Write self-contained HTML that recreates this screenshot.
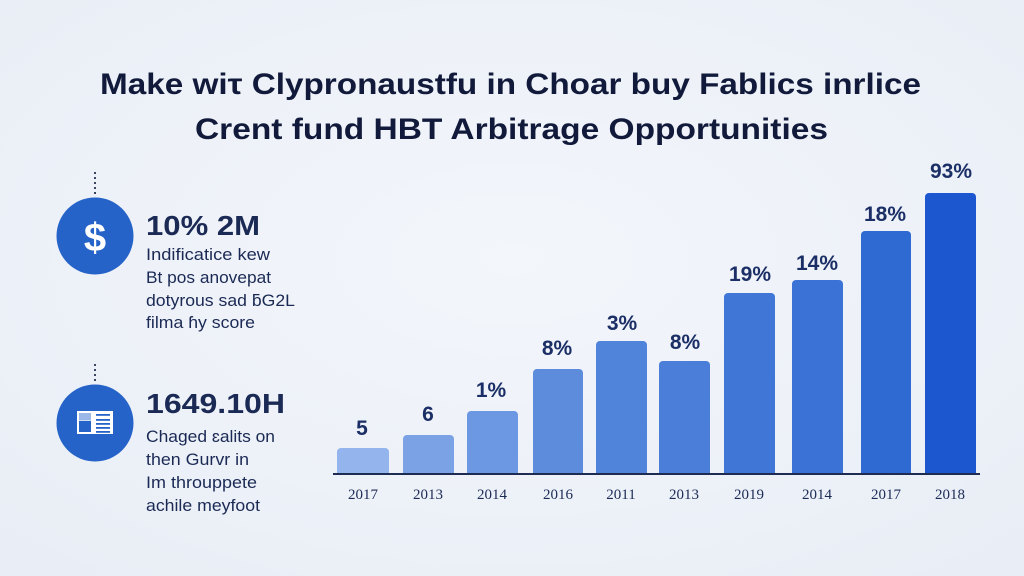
<!DOCTYPE html>
<html>
<head>
<meta charset="utf-8">
<style>
  html,body{margin:0;padding:0;}
  body{width:1024px;height:576px;overflow:hidden;background:#eef2f8;}
  svg{display:block;}
</style>
</head>
<body>
<svg width="1024" height="576" viewBox="0 0 1024 576" xmlns="http://www.w3.org/2000/svg">
  <defs>
    <radialGradient id="bg" cx="50%" cy="45%" r="70%">
      <stop offset="0%" stop-color="#f3f6fb"/>
      <stop offset="100%" stop-color="#e9eef6"/>
    </radialGradient>
  </defs>
  <rect x="0" y="0" width="1024" height="576" fill="url(#bg)"/>

  <!-- Title -->
  <g font-family="Liberation Sans, sans-serif" font-weight="bold" font-size="30" fill="#111a3a">
    <text x="100" y="94" textLength="821" lengthAdjust="spacingAndGlyphs">Make wiτ Clypronaustfu in Choar buy Fablics inrlice</text>
    <text x="195" y="139" textLength="633" lengthAdjust="spacingAndGlyphs">Crent fund HBT Arbitrage Opportunities</text>
  </g>

  <!-- Left panel item 1 -->
  <line x1="95" y1="172" x2="95" y2="195" stroke="#3a4560" stroke-width="2" stroke-dasharray="2,3"/>
  <circle cx="95" cy="236" r="38.5" fill="#2563c9"/>
  <text x="95" y="251" text-anchor="middle" font-family="Liberation Sans, sans-serif" font-weight="bold" font-size="40" fill="#ffffff">$</text>

  <g font-family="Liberation Sans, sans-serif" fill="#1b2a55">
    <text x="146" y="235" font-weight="bold" font-size="28" textLength="114" lengthAdjust="spacingAndGlyphs">10% 2M</text>
    <text x="146" y="260" font-size="17" textLength="124" lengthAdjust="spacingAndGlyphs">Indificatice kew</text>
    <text x="146" y="283" font-size="17" textLength="125" lengthAdjust="spacingAndGlyphs">Bt pos anovepat</text>
    <text x="146" y="306" font-size="17" textLength="149" lengthAdjust="spacingAndGlyphs">dotyrous sad ƃG2L</text>
    <text x="146" y="328" font-size="17" textLength="109" lengthAdjust="spacingAndGlyphs">filma ɦy score</text>
  </g>

  <!-- Left panel item 2 -->
  <line x1="95" y1="364" x2="95" y2="382" stroke="#3a4560" stroke-width="2" stroke-dasharray="2,3"/>
  <circle cx="95" cy="423" r="38.5" fill="#2563c9"/>
  <rect x="77" y="411" width="36" height="23" fill="#ffffff"/>
  <rect x="79" y="413" width="12" height="7.5" fill="#9cb8e8"/>
  <rect x="79" y="421" width="12" height="11" fill="#2563c9"/>
  <rect x="96" y="414" width="14" height="1.8" fill="#2563c9"/>
  <rect x="96" y="419" width="14" height="1.8" fill="#2563c9"/>
  <rect x="96" y="423" width="14" height="1.8" fill="#2563c9"/>
  <rect x="96" y="427" width="14" height="1.8" fill="#2563c9"/>
  <rect x="96" y="431" width="14" height="1.8" fill="#2563c9"/>

  <g font-family="Liberation Sans, sans-serif" fill="#1b2a55">
    <text x="146" y="413" font-weight="bold" font-size="28" textLength="139" lengthAdjust="spacingAndGlyphs">1649.10H</text>
    <text x="146" y="442" font-size="17" textLength="129" lengthAdjust="spacingAndGlyphs">Chaged ɛalits on</text>
    <text x="146" y="465" font-size="17" textLength="103" lengthAdjust="spacingAndGlyphs">then Gurvr in</text>
    <text x="146" y="488" font-size="17" textLength="111" lengthAdjust="spacingAndGlyphs">Im throuppete</text>
    <text x="146" y="511" font-size="17" textLength="114" lengthAdjust="spacingAndGlyphs">achile meyfoot</text>
  </g>

  <!-- Bars -->
  <g>
    <path d="M337,474 V452 a4,4 0 0 1 4,-4 H385 a4,4 0 0 1 4,4 V474 Z" fill="#93b4ec"/>
    <path d="M403,474 V439 a4,4 0 0 1 4,-4 H450 a4,4 0 0 1 4,4 V474 Z" fill="#7ca2e6"/>
    <path d="M467,474 V415 a4,4 0 0 1 4,-4 H514 a4,4 0 0 1 4,4 V474 Z" fill="#6c97e2"/>
    <path d="M533,474 V373 a4,4 0 0 1 4,-4 H579 a4,4 0 0 1 4,4 V474 Z" fill="#5d8cdd"/>
    <path d="M596,474 V345 a4,4 0 0 1 4,-4 H643 a4,4 0 0 1 4,4 V474 Z" fill="#5083da"/>
    <path d="M659,474 V365 a4,4 0 0 1 4,-4 H706 a4,4 0 0 1 4,4 V474 Z" fill="#4a7ed8"/>
    <path d="M724,474 V297 a4,4 0 0 1 4,-4 H771 a4,4 0 0 1 4,4 V474 Z" fill="#4077d6"/>
    <path d="M792,474 V284 a4,4 0 0 1 4,-4 H839 a4,4 0 0 1 4,4 V474 Z" fill="#3a72d5"/>
    <path d="M861,474 V235 a4,4 0 0 1 4,-4 H907 a4,4 0 0 1 4,4 V474 Z" fill="#2f69d2"/>
    <path d="M925,474 V197 a4,4 0 0 1 4,-4 H972 a4,4 0 0 1 4,4 V474 Z" fill="#1c57d0"/>
  </g>
  <line x1="333" y1="474" x2="980" y2="474" stroke="#1e2b52" stroke-width="2"/>

  <!-- Value labels -->
  <g font-family="Liberation Sans, sans-serif" font-weight="bold" font-size="21" fill="#1b2f66" text-anchor="middle">
    <text x="362" y="435">5</text>
    <text x="428" y="421">6</text>
    <text x="491" y="397">1%</text>
    <text x="557" y="355">8%</text>
    <text x="622" y="330">3%</text>
    <text x="685" y="349">8%</text>
    <text x="750" y="281">19%</text>
    <text x="817" y="270">14%</text>
    <text x="885" y="221">18%</text>
    <text x="951" y="178">93%</text>
  </g>

  <!-- Year labels -->
  <g font-family="Liberation Serif, serif" font-size="15" fill="#1b2a55" text-anchor="middle">
    <text x="363" y="499">2017</text>
    <text x="428" y="499">2013</text>
    <text x="492" y="499">2014</text>
    <text x="558" y="499">2016</text>
    <text x="621" y="499">2011</text>
    <text x="684" y="499">2013</text>
    <text x="749" y="499">2019</text>
    <text x="817" y="499">2014</text>
    <text x="886" y="499">2017</text>
    <text x="950" y="499">2018</text>
  </g>
</svg>
</body>
</html>
